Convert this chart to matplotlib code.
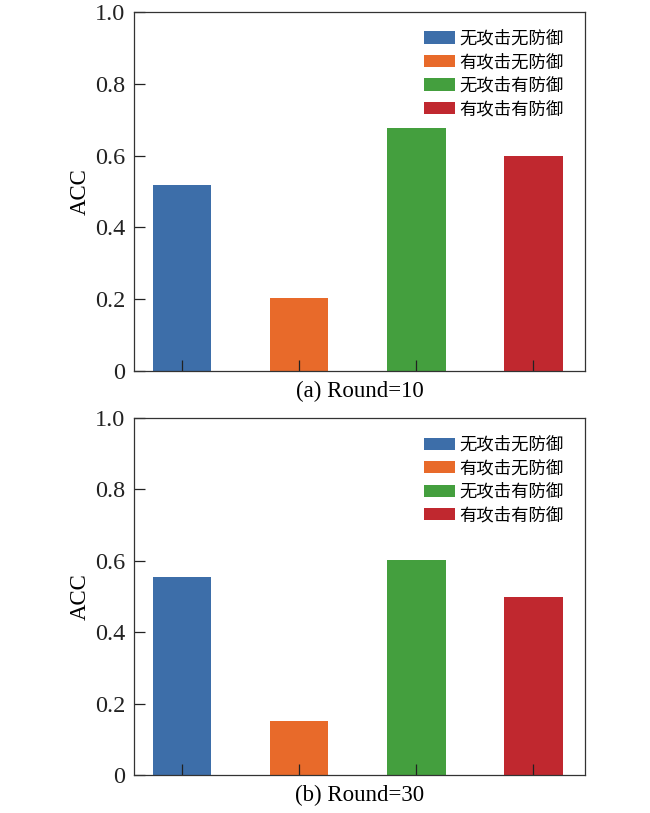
import matplotlib
matplotlib.use('Agg')
import matplotlib.pyplot as plt

# data
labels = ['无攻击无防御', '有攻击无防御', '无攻击有防御', '有攻击有防御']
acc_round10 = [0.518, 0.203, 0.677, 0.599]
acc_round30 = [0.555, 0.151, 0.602, 0.500]
captions = ['(a) Round=10', '(b) Round=30']
colors = ['#3d6ea9', '#e86a2a', '#449f3e', '#c0282f']
yticks = [0, 0.2, 0.4, 0.6, 0.8, 1.0]
ytick_labels = ['0', '0.2', '0.4', '0.6', '0.8', '1.0']

plt.rcParams['font.family'] = ['Liberation Serif', 'Noto Sans CJK SC']
plt.rcParams['axes.linewidth'] = 0.9

fig = plt.figure(figsize=(6.5, 8.13), dpi=100)
ax1 = fig.add_axes([0.206, 0.5437, 0.694, 0.4416])
ax2 = fig.add_axes([0.206, 0.0467, 0.694, 0.4391])

x = range(len(labels))
for ax, vals, cap in zip([ax1, ax2], [acc_round10, acc_round30], captions):
    for i in x:
        ax.bar(i, vals[i], width=0.5, color=colors[i], label=labels[i])
    ax.set_xlim(-0.41, 3.44)
    ax.set_ylim(0, 1.0)
    ax.set_xticks(list(x))
    ax.set_xticklabels([])
    ax.set_yticks(yticks)
    ax.set_yticklabels(ytick_labels)
    ax.tick_params(direction='in', length=8, width=0.9, labelsize=17.5,
                   colors='#222222', pad=6)
    ax.set_ylabel('ACC', fontsize=16.5, labelpad=3)
    ax.set_xlabel(cap, fontsize=16.5, labelpad=1)
    for s in ax.spines.values():
        s.set_color('#333333')
    ax.legend(loc='upper right', frameon=False, fontsize=12.5, handlelength=1.8,
              handleheight=0.7, handletextpad=0.2, labelspacing=0.4,
              borderaxespad=0.6, bbox_to_anchor=(0.99, 0.995))

fig.savefig('out.png', dpi=100)
